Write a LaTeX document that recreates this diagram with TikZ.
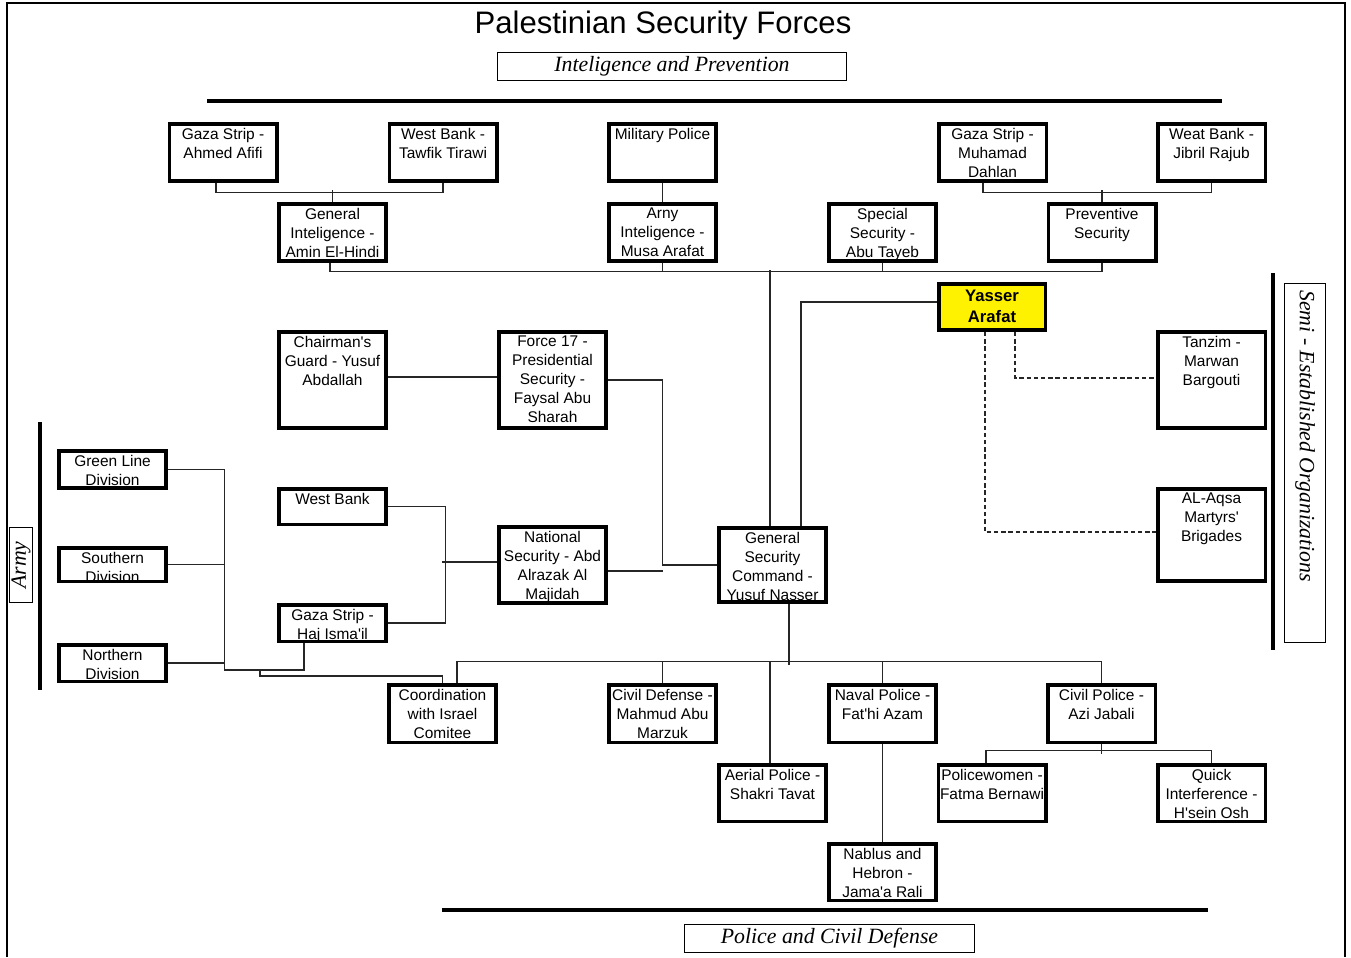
\documentclass[tikz,border=0pt]{standalone}
\usepackage{fontspec}
\setmainfont{Liberation Serif}
\newfontfamily\arialfont{Liberation Sans}[Ligatures=TeXOff]
\newcommand{\orgfont}{\arialfont\fontsize{8.8}{10.8}\selectfont}
\newcommand{\bossfont}{\arialfont\bfseries\fontsize{9.5}{12}\selectfont}
\newcommand{\headfont}{\arialfont\fontsize{17.7}{20}\selectfont}
\newcommand{\bandfont}{\itshape\fontsize{12.4}{14}\selectfont}
\usetikzlibrary{calc}

\begin{document}
\begin{tikzpicture}[x=0.02cm, y=-0.02cm,
		orgbox/.style={draw, line width=2pt, minimum width=2.15cm, minimum height=#1, inner sep=0pt},
		orgbox/.default=1.15cm,
		orgtext/.style={anchor=north, align=center, inner sep=3.2pt, font=\orgfont},
		bandbox/.style={draw, line width=0.6pt, inner sep=0pt, font=\bandfont},
		link/.style={line width=0.6pt, black!85},
		rule/.style={line width=2.3pt}]
					\useasboundingbox (0,0) rectangle (1351,957);
					\draw[line width=1.2pt] (7,957) -- (7,3) -- (1345,3) -- (1345,957);

					\node[font=\headfont, anchor=base] (title) at (663,33) {Palestinian Security Forces};
					\node[bandbox, minimum width=6.98cm, minimum height=0.56cm] (intel) at (672,66.5) {Inteligence and Prevention};
					\draw[rule] (207,101) -- (1222,101);

					%% intelligence and prevention
					\node[orgbox, label={[orgtext]north:{Gaza Strip -\\Ahmed Afifi}}] (gsaa) at (223,152.5) {};
					\node[orgbox, label={[orgtext]north:{West Bank -\\Tawfik Tirawi}}] (wbtt) at (443,152.5) {};
					\node[orgbox, label={[orgtext]north:{Military Police}}] (mp) at (662.5,152.5) {};
					\node[orgbox, label={[orgtext]north:{Gaza Strip -\\Muhamad\\Dahlan}}] (gsmd) at (992.5,152.5) {};
					\node[orgbox, label={[orgtext]north:{Weat Bank -\\Jibril Rajub}}] (wbjr) at (1211.5,152.5) {};

					\node[orgbox, label={[orgtext]north:{General\\Inteligence -\\Amin El-Hindi}}] (gi) at (332.5,232.5) {};
					\node[orgbox, label={[orgtext]north:{Arny\\Inteligence -\\Musa Arafat}}] (ai) at (662.5,232.5) {};
					\node[orgbox, label={[orgtext]north:{Special\\Security -\\Abu Tayeb}}] (ss) at (882.5,232.5) {};
					\node[orgbox, label={[orgtext]north:{Preventive\\Security}}] (ps) at (1102,232.5) {};

					%% chairman
					\node[orgbox=0.93cm, minimum width=2.13cm, fill=yellow, label={[orgtext, font=\bossfont, yshift=-1pt]north:{Yasser\\Arafat}}] (ya) at (992,307) {};

					\node[orgbox=1.93cm, label={[orgtext]north:{Chairman's\\Guard - Yusuf\\Abdallah}}] (cg) at (332.5,380) {};
					\node[orgbox=1.93cm, label={[orgtext]north:{Force 17 -\\Presidential\\Security -\\Faysal Abu\\Sharah}}] (f17) at (552.5,380) {};

					%% semi - established
					\node[orgbox=1.93cm, label={[orgtext]north:{Tanzim -\\Marwan\\Bargouti}}] (tz) at (1211.5,380) {};
					\node[orgbox=1.85cm, label={[orgtext]north:{AL-Aqsa\\Martyrs'\\Brigades}}] (aq) at (1211.5,535) {};
					\draw[line width=2pt] (1273,273) -- (1273,650);
					\node[bandbox, minimum width=0.82cm, minimum height=7.18cm] (semibox) at (1305,463) {};
					\node[font=\bandfont, rotate=-90, anchor=west, inner sep=0pt] (semitext) at ($(semibox.north)+(0,7)$) {Semi - Established Organizations};

					%% army
					\draw[line width=2pt] (40,422) -- (40,690);
					\node[bandbox, rotate=90, minimum width=1.5cm, minimum height=0.46cm] (army) at (21,565) {Army};
					\node[orgbox=0.75cm, label={[orgtext]north:{Green Line\\Division}}] (gl) at (112.5,469.5) {};
					\node[orgbox=0.67cm, label={[orgtext]north:{Southern\\Division}}] (sd) at (112.5,564.5) {};
					\node[orgbox=0.73cm, label={[orgtext]north:{Northern\\Division}}] (nd) at (112.5,663) {};

					\node[orgbox=0.71cm, label={[orgtext]north:{West Bank}}] (wb) at (332.5,506.5) {};
					\node[orgbox=0.73cm, label={[orgtext]north:{Gaza Strip -\\Haj Isma'il}}] (gh) at (332.5,623) {};
					\node[orgbox=1.53cm, label={[orgtext]north:{National\\Security - Abd\\Alrazak Al\\Majidah}}] (ns) at (552.5,565) {};
					\node[orgbox=1.49cm, label={[orgtext]north:{General\\Security\\Command -\\Yusuf Nasser}}] (gsc) at (772.5,565) {};

					%% police and civil defense
					\node[orgbox, label={[orgtext]north:{Coordination\\with Israel\\Comitee}}] (co) at (442.5,713.5) {};
					\node[orgbox, label={[orgtext]north:{Civil Defense -\\Mahmud Abu\\Marzuk}}] (cd) at (662.5,713.5) {};
					\node[orgbox, label={[orgtext]north:{Naval Police -\\Fat'hi Azam}}] (np) at (882.5,713.5) {};
					\node[orgbox, label={[orgtext]north:{Civil Police -\\Azi Jabali}}] (cp) at (1101.5,713.5) {};
					\node[orgbox=1.13cm, label={[orgtext]north:{Aerial Police -\\Shakri Tavat}}] (ap) at (772.5,793) {};
					\node[orgbox=1.13cm, label={[orgtext]north:{Policewomen -\\Fatma Bernawi}}] (pw) at (992,793) {};
					\node[orgbox=1.13cm, label={[orgtext]north:{Quick\\Interference -\\H'sein Osh}}] (qi) at (1211.5,793) {};
					\node[orgbox=1.13cm, label={[orgtext]north:{Nablus and\\Hebron -\\Jama'a Rali}}] (nh) at (882.5,872) {};

					\draw[rule] (442,910) -- (1208,910);
					\node[bandbox, minimum width=5.8cm, minimum height=0.56cm] (police) at (829.5,938.5) {Police and Civil Defense};

					%% connectors
					\draw[link] ($(gsaa.south)+(-7,0)$) -- ++(0,9.5) -| (wbtt.south);
					\draw[link] (gi.north) -- ++(0,-12.5);
					\draw[link] (mp.south) -- (ai.north);
					\draw[link] ($(gsmd.south)+(-9.5,0)$) -- ++(0,9.5) -| (wbjr.south);
					\draw[link] (ps.north) -- ++(0,-12.5);
					\draw[link] ($(gi.south)+(-2.5,0)$) -- ++(0,8.5) -| (ps.south);
					\draw[link] (ai.south) -- ++(0,8.5);
					\draw[link] (ss.south) -- ++(0,8.5);
					\coordinate (topbus) at (770,270);
					\draw[link] (topbus) -- (topbus |- gsc.north);

					\draw[link] ($(ya.west)+(0,-5)$) -| ($(gsc.north)+(28.5,0)$);
					\draw[link, dash pattern=on 2.5pt off 1.6pt] ($(ya.south)+(23,0)$) |- ($(tz.west)+(0,-2)$);
					\draw[link, dash pattern=on 2.5pt off 1.6pt] ($(ya.south)+(-7,0)$) |- ($(aq.west)+(0,-3)$);

					\draw[link] ($(cg.east)+(0,-3)$) -- ($(f17.west)+(0,-3)$);
					\draw[link] (f17.east) -- ++(54.5,0) |- (gsc.west);
					\draw[link] ($(ns.east)+(0,6)$) -- ++(54.5,0);
					\draw[link] (wb.east) -- ++(57.5,0) |- (gh.east);
					\draw[link] ($(ns.west)+(0,-3)$) -- ++(-54.6,0);

					\draw[link] (gl.east) -- ++(56.5,0) -- ++(0,200.5) -| ($(gh.south)+(-28.5,0)$);
					\draw[link] (sd.east) -- ++(56.5,0);
					\draw[link] (nd.east) -- ++(56.5,0);
					\coordinate (armyjoin) at (260,670);
					\draw[link] (armyjoin) -- ++(0,6) -| (co.north);

					\draw[link] ($(gsc.south)+(16.5,0)$) -- ++(0,60.6);
					\draw[link] ($(co.north)+(14.5,0)$) -- ++(0,-21.6) -| (cp.north);
					\draw[link] (cd.north) -- ++(0,-21.6);
					\draw[link] (np.north) -- ++(0,-21.6);
					\draw[link] ($(ap.north)+(-2.5,0)$) -- ++(0,-101.6);
					\draw[link] (np.south) -- (nh.north);
					\draw[link] ($(pw.north)+(-6,0)$) -- ++(0,-12.6) -| (qi.north);
					\draw[link] (cp.south) -- ++(0,9.6);
				\end{tikzpicture}
\end{document}
